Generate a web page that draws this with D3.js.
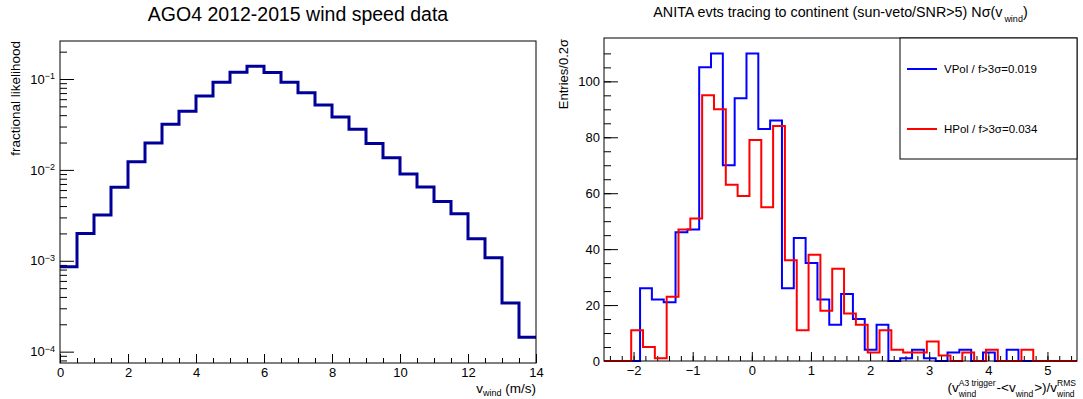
<!DOCTYPE html>
<html>
<head>
<meta charset="utf-8">
<script src="https://cdn.jsdelivr.net/npm/d3@7"></script>
<style>
body { margin: 0; background: #fff; }
text { font-family: "Liberation Sans", Arial, Helvetica, sans-serif; fill: #000; }
.tick line { stroke: #000; }
</style>
</head>
<body>
<div id="chart"></div>
<script>
// ---- left pad: AGO4 wind speed, 0.5 m/s bins ----
var windBinStart = 0, windBinWidth = 0.5;
var windFrac = [8.6e-4, 2.0e-3, 3.18e-3, 6.46e-3, 0.0123, 0.0198, 0.0318, 0.0442,
                0.065, 0.092, 0.119, 0.138, 0.118, 0.092, 0.0707, 0.0518,
                0.0382, 0.028, 0.0195, 0.0136, 0.009, 0.0065, 0.0045, 0.0033,
                0.00175, 0.00108, 3.43e-4, 1.44e-4];
var windTicks = [0, 2, 4, 6, 8, 10, 12, 14];
var logTicks = [1e-4, 1e-3, 1e-2, 1e-1];

// ---- right pad: N sigma histograms, 0.2 sigma bins ----
var sigBinWidth = 0.2;
var vpolStart = -1.89;
var vpol = [26, 22, 21, 46, 47, 105, 110, 70, 94, 110, 83, 86, 26, 44, 35, 22,
            13, 24, 15, 4, 13, 0, 1, 4, 1, 0, 3, 4, 0, 3, 0, 4];
var hpolStart = -2.04;
var hpol = [11, 5, 1, 23, 47, 51, 95, 90, 63, 59, 79, 55, 84, 36, 11, 38,
            18, 33, 17, 13, 3, 11, 4, 3, 3, 7, 2, 0, 3, 0, 4, 0, 0, 4];
var sigTicks = [-2, -1, 0, 1, 2, 3, 4, 5];
var entryTicks = [0, 20, 40, 60, 80, 100];
var legendLabels = ["VPol / f>3σ=0.019", "HPol / f>3σ=0.034"];
var legendColors = ["#0000ff", "#ff0000"];

var width = 1083, height = 399;
var svg = d3.select("#chart").append("svg")
    .attr("width", width)
    .attr("height", height);

// frames
var L = {x0: 60, x1: 536, y0: 41, y1: 363};
var R = {x0: 604, x1: 1077, y0: 38, y1: 361};

var xL = d3.scaleLinear().domain([0, 14]).range([L.x0, L.x1]);
var yL = d3.scaleLog().domain([7.5e-5, 0.262]).range([L.y1, L.y0]);
var xR = d3.scaleLinear().domain([-2.5, 5.5]).range([R.x0, R.x1]);
var yR = d3.scaleLinear().domain([0, 115.5]).range([R.y1, R.y0]);

// clip paths
var defs = svg.append("defs");
defs.append("clipPath").attr("id", "clipL").append("rect")
    .attr("x", L.x0).attr("y", L.y0).attr("width", L.x1 - L.x0).attr("height", L.y1 - L.y0);
defs.append("clipPath").attr("id", "clipR").append("rect")
    .attr("x", R.x0).attr("y", R.y0 - 2).attr("width", R.x1 - R.x0).attr("height", R.y1 - R.y0 + 4);

// step points for a histogram
function steps(start, w, vals) {
    var pts = [];
    vals.forEach(function(v, i) {
        var a = start + i * w;
        pts.push([a, v], [a + w, v]);
    });
    return pts;
}

/* LEFT PAD */
var gL = svg.append("g");

// minor + major x ticks
gL.append("g")
    .attr("transform", "translate(0," + L.y1 + ")")
    .call(d3.axisBottom(xL).tickValues(d3.range(0, 14.01, 0.5)).tickSize(-5).tickSizeOuter(0).tickFormat(""))
    .call(function(g) { g.select(".domain").remove(); });
gL.append("g")
    .attr("transform", "translate(0," + L.y1 + ")")
    .call(d3.axisBottom(xL).tickValues(windTicks).tickSize(-9).tickSizeOuter(0).tickPadding(5))
    .call(function(g) {
        g.select(".domain").remove();
        g.selectAll("text").style("font-size", "13px").style("font-family", null);
    });

// log y ticks
var minorLog = [];
[-5, -4, -3, -2, -1].forEach(function(e) {
    for (var m = 2; m <= 9; m++) {
        var v = m * Math.pow(10, e);
        if (v >= 7.5e-5 && v <= 0.262) minorLog.push(v);
    }
});
gL.append("g")
    .attr("transform", "translate(" + L.x0 + ",0)")
    .call(d3.axisLeft(yL).tickValues(minorLog).tickSize(-7).tickSizeOuter(0).tickFormat(""))
    .call(function(g) { g.select(".domain").remove(); });
gL.append("g")
    .attr("transform", "translate(" + L.x0 + ",0)")
    .call(d3.axisLeft(yL).tickValues(logTicks).tickSize(-14).tickSizeOuter(0).tickPadding(5))
    .call(function(g) {
        g.select(".domain").remove();
        g.selectAll("text").each(function(d) {
            var t = d3.select(this).text(null).style("font-size", "13px").style("font-family", null);
            t.append("tspan").text("10");
            t.append("tspan").attr("dy", "-0.5em").style("font-size", "9px")
                .text("\u2212" + Math.round(-Math.log10(d)));
        });
    });

// histogram
var lineL = d3.line().x(function(d) { return xL(d[0]); }).y(function(d) { return yL(d[1]); });
gL.append("path")
    .attr("clip-path", "url(#clipL)")
    .attr("d", lineL(steps(windBinStart, windBinWidth, windFrac)))
    .attr("fill", "none")
    .attr("stroke", "#000099")
    .attr("stroke-width", 3);

gL.append("rect")
    .attr("x", L.x0).attr("y", L.y0)
    .attr("width", L.x1 - L.x0).attr("height", L.y1 - L.y0)
    .attr("fill", "none").attr("stroke", "#000").attr("stroke-width", 1);

// titles
gL.append("text")
    .attr("x", (L.x0 + L.x1) / 2).attr("y", 21)
    .attr("text-anchor", "middle")
    .style("font-size", "19.5px")
    .text("AGO4 2012-2015 wind speed data");

gL.append("text")
    .attr("transform", "translate(20," + L.y0 + ") rotate(-90)")
    .attr("text-anchor", "end")
    .style("font-size", "13.5px")
    .text("fractional likelihood");

var xtL = gL.append("text")
    .attr("x", L.x1).attr("y", 393)
    .attr("text-anchor", "end")
    .style("font-size", "13.5px");
xtL.append("tspan").text("v");
xtL.append("tspan").attr("dy", 3).style("font-size", "9px").text("wind");
xtL.append("tspan").attr("dy", -3).text(" (m/s)");

/* RIGHT PAD */
var gR = svg.append("g");

gR.append("g")
    .attr("transform", "translate(0," + R.y1 + ")")
    .call(d3.axisBottom(xR).tickValues(d3.range(-2.4, 5.45, 0.2)).tickSize(-5).tickSizeOuter(0).tickFormat(""))
    .call(function(g) { g.select(".domain").remove(); });
gR.append("g")
    .attr("transform", "translate(0," + R.y1 + ")")
    .call(d3.axisBottom(xR).tickValues(sigTicks).tickSize(-9).tickSizeOuter(0).tickPadding(5))
    .call(function(g) {
        g.select(".domain").remove();
        g.selectAll("text").style("font-size", "13px").style("font-family", null);
    });

gR.append("g")
    .attr("transform", "translate(" + R.x0 + ",0)")
    .call(d3.axisLeft(yR).tickValues(d3.range(0, 115, 5)).tickSize(-7).tickSizeOuter(0).tickFormat(""))
    .call(function(g) { g.select(".domain").remove(); });
gR.append("g")
    .attr("transform", "translate(" + R.x0 + ",0)")
    .call(d3.axisLeft(yR).tickValues(entryTicks).tickSize(-14).tickSizeOuter(0).tickPadding(4))
    .call(function(g) {
        g.select(".domain").remove();
        g.selectAll("text").style("font-size", "13px").style("font-family", null);
    });

var lineR = d3.line().x(function(d) { return xR(d[0]); }).y(function(d) { return yR(d[1]); });
function histPts(start, vals) {
    var end = start + vals.length * sigBinWidth;
    return [[-2.5, 0], [start, 0]].concat(steps(start, sigBinWidth, vals), [[end, 0], [5.5, 0]]);
}
gR.append("path")
    .attr("clip-path", "url(#clipR)")
    .attr("d", lineR(histPts(vpolStart, vpol)))
    .attr("fill", "none").attr("stroke", legendColors[0]).attr("stroke-width", 2);
gR.append("path")
    .attr("clip-path", "url(#clipR)")
    .attr("d", lineR(histPts(hpolStart, hpol)))
    .attr("fill", "none").attr("stroke", legendColors[1]).attr("stroke-width", 2);

gR.append("rect")
    .attr("x", R.x0).attr("y", R.y0)
    .attr("width", R.x1 - R.x0).attr("height", R.y1 - R.y0)
    .attr("fill", "none").attr("stroke", "#000").attr("stroke-width", 1);

// legend
var leg = gR.append("g");
leg.append("rect")
    .attr("x", 900).attr("y", R.y0).attr("width", R.x1 - 900).attr("height", 121)
    .attr("fill", "#fff").attr("stroke", "#000").attr("stroke-width", 1);
legendLabels.forEach(function(lab, i) {
    var y = 69 + i * 60;
    leg.append("line")
        .attr("x1", 907).attr("x2", 937).attr("y1", y).attr("y2", y)
        .attr("stroke", legendColors[i]).attr("stroke-width", 2);
    leg.append("text")
        .attr("x", 944).attr("y", y + 4)
        .style("font-size", "11.5px")
        .text(lab);
});

// titles
var tR = gR.append("text")
    .attr("x", (R.x0 + R.x1) / 2).attr("y", 17)
    .attr("text-anchor", "middle")
    .style("font-size", "14.3px");
tR.append("tspan").text("ANITA evts tracing to continent (sun-veto/SNR>5) N\u03c3(v");
tR.append("tspan").attr("dy", 5).attr("dx", 2).style("font-size", "9px").text("wind");
tR.append("tspan").attr("dy", -5).text(")");

gR.append("text")
    .attr("transform", "translate(568," + (R.y0 + 1) + ") rotate(-90)")
    .attr("text-anchor", "end")
    .style("font-size", "13px")
    .text("Entries/0.2\u03c3");

// x title with stacked super/subscripts
var xt = gR.append("g");
var pieces = [
    {t: "(v", size: 13.5, dy: 0},
    {t: "A3 trigger", size: 8.5, dy: -6, keep: true},
    {t: "wind", size: 8.5, dy: 5},
    {t: " -<v", size: 13.5, dy: 0},
    {t: "wind", size: 8.5, dy: 5},
    {t: ">)/v", size: 13.5, dy: 0},
    {t: "RMS", size: 8.5, dy: -6, keep: true},
    {t: "wind", size: 8.5, dy: 5}
];
var cx = 0, pending = 0;
pieces.forEach(function(p) {
    var t = xt.append("text").attr("x", cx).attr("y", p.dy)
        .style("font-size", p.size + "px").text(p.t);
    var w = t.node().getComputedTextLength();
    if (p.keep) { pending = w; }
    else { cx += Math.max(w, pending) + (p.size < 10 ? 1 : 0); pending = 0; }
});
xt.attr("transform", "translate(" + (R.x1 - cx) + ",392)");
</script>
</body>
</html>
